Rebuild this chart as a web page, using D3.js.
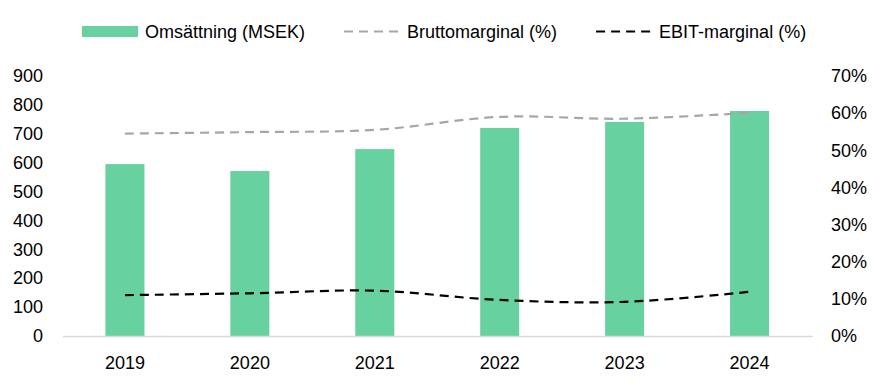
<!DOCTYPE html>
<html>
<head>
<meta charset="utf-8">
<script src="https://cdn.jsdelivr.net/npm/d3@7"></script>
<style>
  body { margin: 0; background: #fff; }
  text { font-family: "Liberation Sans", Arial, sans-serif; fill: #000; }
</style>
</head>
<body>
<div id="chart"></div>
<script>
const years = ["2019", "2020", "2021", "2022", "2023", "2024"]
const omsattning = [595, 571, 647, 720, 741, 779]
const bruttomarginal = [54.5, 54.9, 55.5, 59.0, 58.5, 60.1]
const ebitmarginal = [11.0, 11.5, 12.2, 9.7, 9.2, 11.9]
const leftTicks = [0, 100, 200, 300, 400, 500, 600, 700, 800, 900]
const rightTicks = [0, 10, 20, 30, 40, 50, 60, 70]

const width = 880,
      height = 388,
      margin = {top: 76, right: 68, bottom: 52, left: 62.5}
const fontSize = "18px"

const svg = d3.select("#chart")
  .append("svg")
  .attr("width", width)
  .attr("height", height)

const x = d3.scaleBand()
  .domain(years)
  .range([margin.left, width - margin.right])
  .paddingInner(0.6876)
  .paddingOuter(0.3438)

const y = d3.scaleLinear()
  .domain([0, 900])
  .range([height - margin.bottom, margin.top])

const y2 = d3.scaleLinear()
  .domain([0, 70])
  .range([height - margin.bottom, margin.top])

// bars
svg.append("g")
  .selectAll("rect")
  .data(years)
  .join("rect")
  .attr("x", d => x(d))
  .attr("y", (d, i) => y(omsattning[i]))
  .attr("width", x.bandwidth())
  .attr("height", (d, i) => y(0) - y(omsattning[i]))
  .attr("fill", "#67d19f")

// category axis
const xAxis = svg.append("g")
  .attr("transform", `translate(0,${y(0)})`)
  .call(d3.axisBottom(x).tickSize(0).tickPadding(20).tickSizeOuter(0))
xAxis.select(".domain").attr("stroke", "#d9d9d9").attr("stroke-width", 1.5)
xAxis.selectAll("text").attr("font-size", fontSize)

// left axis
const yAxis = svg.append("g")
  .attr("transform", `translate(43,0)`)
  .call(d3.axisLeft(y).tickValues(leftTicks).tickSize(0).tickPadding(0))
yAxis.select(".domain").remove()
yAxis.selectAll("text").attr("font-size", fontSize)

// right axis
const y2Axis = svg.append("g")
  .attr("transform", `translate(831,0)`)
  .call(d3.axisRight(y2).tickValues(rightTicks).tickSize(0).tickPadding(0).tickFormat(d => d + "%"))
y2Axis.select(".domain").remove()
y2Axis.selectAll("text").attr("font-size", fontSize)

// lines
const cx = d => x(d) + x.bandwidth() / 2
const line = vals => d3.line()
  .curve(d3.curveCatmullRom)
  .x((d, i) => cx(years[i]))
  .y(d => y2(d))(vals)

svg.append("path")
  .attr("d", line(bruttomarginal))
  .attr("fill", "none")
  .attr("stroke", "#a6a6a6")
  .attr("stroke-width", 2.2)
  .attr("stroke-dasharray", "9,6")

svg.append("path")
  .attr("d", line(ebitmarginal))
  .attr("fill", "none")
  .attr("stroke", "#000")
  .attr("stroke-width", 2.2)
  .attr("stroke-dasharray", "9,6")

// legend
const legendItems = [
  {label: "Omsättning (MSEK)", type: "bar", color: "#67d19f"},
  {label: "Bruttomarginal (%)", type: "line", color: "#a6a6a6"},
  {label: "EBIT-marginal (%)", type: "line", color: "#000"}
]
const legend = svg.append("g")
let lx = 82
const ly = 31.5
legendItems.forEach(item => {
  if (item.type === "bar") {
    legend.append("rect")
      .attr("x", lx).attr("y", ly - 5.5)
      .attr("width", 56).attr("height", 11)
      .attr("fill", item.color)
  } else {
    legend.append("line")
      .attr("x1", lx).attr("x2", lx + 56)
      .attr("y1", ly).attr("y2", ly)
      .attr("stroke", item.color)
      .attr("stroke-width", 2.2)
      .attr("stroke-dasharray", "9,6")
  }
  const t = legend.append("text")
    .attr("x", lx + 63)
    .attr("y", ly)
    .attr("dy", "0.35em")
    .attr("font-size", fontSize)
    .text(item.label)
  lx += 63 + t.node().getComputedTextLength() + 39
})
</script>
</body>
</html>
